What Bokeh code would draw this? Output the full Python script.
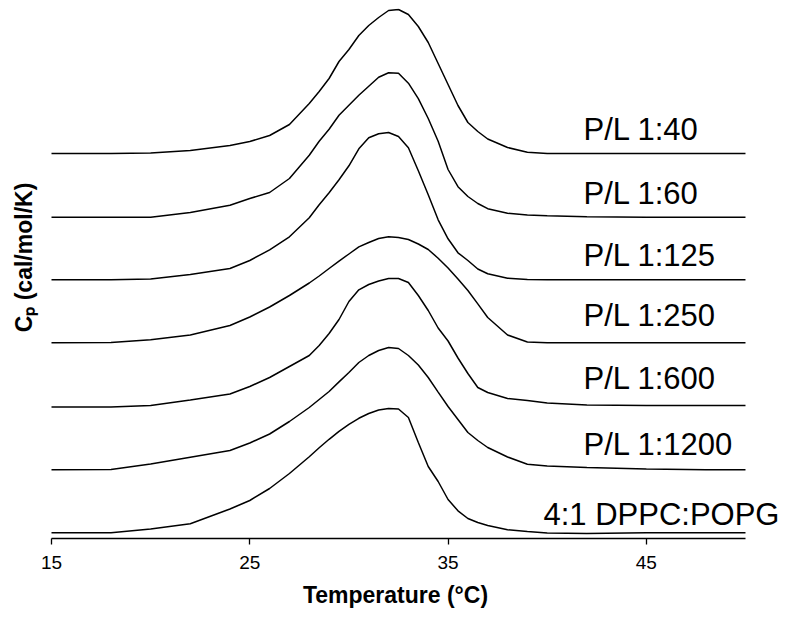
import math
from bokeh.plotting import figure
from bokeh.models import Range1d, FixedTicker, ColumnDataSource
from bokeh.core.properties import value
from bokeh.embed import file_html
from bokeh.resources import INLINE

# ---- data ----
temperature = [15, 18, 20, 22, 24, 25, 26, 27, 28, 28.5, 29, 29.5, 30, 30.5, 31, 31.5,
               32, 32.5, 33, 33.5, 34, 34.5, 35, 35.5, 36, 36.5, 37, 38, 39, 40,
               42, 45, 48, 50]

cp_pl_40 = [0, 0, 0.05, 0.3, 0.8, 1.2, 1.8, 2.9, 5.0, 6.2, 7.5, 9.2, 10.4, 11.8, 12.8, 13.6,
            14.3, 14.4, 13.9, 12.7, 11.1, 9.0, 6.9, 4.8, 3.1, 2.2, 1.45, 0.6, 0.12, 0,
            0, 0, 0, 0]
cp_pl_60 = [0, 0, 0, 0.47, 1.2, 1.87, 2.47, 3.87, 6.2, 7.6, 8.8, 10.2, 11.2, 12.2, 13.1, 14.0,
            14.45, 14.4, 13.4, 11.85, 9.87, 7.6, 4.77, 3.05, 2.07, 1.37, 0.85, 0.4, 0.23, 0.14,
            0.05, 0, 0, 0]
cp_pl_125 = [0, 0, 0.08, 0.53, 1.13, 1.93, 3.0, 4.3, 6.2, 7.5, 8.7, 10.0, 11.4, 13.1, 14.2, 14.6,
             14.73, 14.33, 13.2, 10.9, 8.5, 6.0, 4.1, 2.7, 1.93, 1.08, 0.6, 0.16, 0.03, 0,
             0, 0, 0, 0]
cp_pl_250 = [0, 0.03, 0.31, 0.79, 1.73, 2.58, 3.58, 4.73, 5.98, 6.68, 7.43, 8.17, 8.88, 9.59, 10.03, 10.43,
             10.6, 10.53, 10.33, 9.88, 9.33, 8.46, 7.48, 6.37, 5.23, 3.89, 2.53, 0.78, 0.08, 0,
             0, 0, 0, 0]
cp_pl_600 = [0, 0, 0.15, 0.71, 1.3, 2.05, 2.95, 4.05, 5.15, 6.15, 7.35, 8.75, 10.55, 11.72, 12.25, 12.6,
             12.85, 12.85, 12.45, 11.15, 9.65, 7.9, 6.6, 4.9, 3.35, 1.95, 1.45, 0.85, 0.65, 0.4,
             0.2, 0.15, 0.15, 0.15]
cp_pl_1200 = [0, 0.03, 0.58, 1.26, 1.93, 2.68, 3.58, 4.83, 6.23, 7.03, 7.83, 8.79, 9.73, 10.73, 11.43, 11.93,
              12.23, 12.13, 11.43, 10.48, 9.23, 7.77, 6.33, 5.03, 3.73, 2.93, 2.23, 1.28, 0.56, 0.38,
              0.23, 0.08, 0, 0]
cp_dppc_popg = [0, 0, 0.38, 0.91, 2.38, 3.23, 4.43, 5.93, 7.6, 8.5, 9.35, 10.15, 10.85, 11.45, 11.93, 12.28,
                12.43, 12.38, 11.53, 9.03, 6.63, 5.13, 3.33, 2.2, 1.43, 1.03, 0.73, 0.3, 0.13, -0.02,
                -0.07, 0, 0, 0]

series_names = ["P/L 1:40", "P/L 1:60", "P/L 1:125", "P/L 1:250",
                "P/L 1:600", "P/L 1:1200", "4:1 DPPC:POPG"]
series_values = [cp_pl_40, cp_pl_60, cp_pl_125, cp_pl_250,
                 cp_pl_600, cp_pl_1200, cp_dppc_popg]
baseline_offset = [38.5, 32.13, 25.87, 19.57, 13.15, 6.87, 0.57]

x_ticks = [15, 25, 35, 45]
x_label = "Temperature (°C)"
y_label = "Cₚ (cal/mol/K)"

# ---- style ----
FONT = "Liberation Sans"
label_x = [41.83, 41.83, 41.83, 41.83, 41.83, 41.83, 39.81]
label_gap = [2.4, 2.37, 2.43, 2.73, 2.85, 2.53, 1.83]

p = figure(width=790, height=615, output_backend="svg", toolbar_location=None,
           x_range=Range1d(12.428, 52.27), y_range=Range1d(0, 53.0),
           min_border_left=0, min_border_right=0, min_border_top=8,
           min_border_bottom=77)
p.outline_line_color = None
p.xgrid.visible = False
p.ygrid.visible = False
p.yaxis.visible = False
p.background_fill_color = "white"
p.border_fill_color = "white"

for name, vals, off in zip(series_names, series_values, baseline_offset):
    src = ColumnDataSource(dict(t=temperature, cp=[v + off for v in vals]))
    p.line("t", "cp", source=src, line_color="black", line_width=1.5)

for name, lx, off, gap in zip(series_names, label_x, baseline_offset, label_gap):
    p.text(x=[lx], y=[off + gap], text=[name], text_font=value(FONT),
           text_font_size="31px", text_color="black",
           text_align="left", text_baseline="alphabetic")

# vertical y-axis title, drawn left of the curves
p.text(x=[13.59], y=[28.1], text=[y_label], angle=math.pi / 2,
       text_font=value(FONT), text_font_size="23px", text_font_style="bold",
       text_color="black", text_align="center", text_baseline="middle")

xa = p.xaxis[0]
xa.ticker = FixedTicker(ticks=x_ticks)
xa.bounds = (15, 50)
xa.axis_line_color = "black"
xa.axis_line_width = 1.3
xa.major_tick_line_color = "black"
xa.major_tick_line_width = 1.3
xa.major_tick_out = 6
xa.major_tick_in = 0
xa.minor_tick_line_color = None
xa.major_label_text_font = FONT
xa.major_label_text_font_size = "19px"
xa.major_label_text_color = "black"
xa.major_label_standoff = 11
xa.axis_label = x_label
xa.axis_label_text_font = FONT
xa.axis_label_text_font_size = "23px"
xa.axis_label_text_font_style = "bold"
xa.axis_label_text_color = "black"
xa.axis_label_standoff = 10

open("out.html", "w").write(file_html(p, INLINE))
